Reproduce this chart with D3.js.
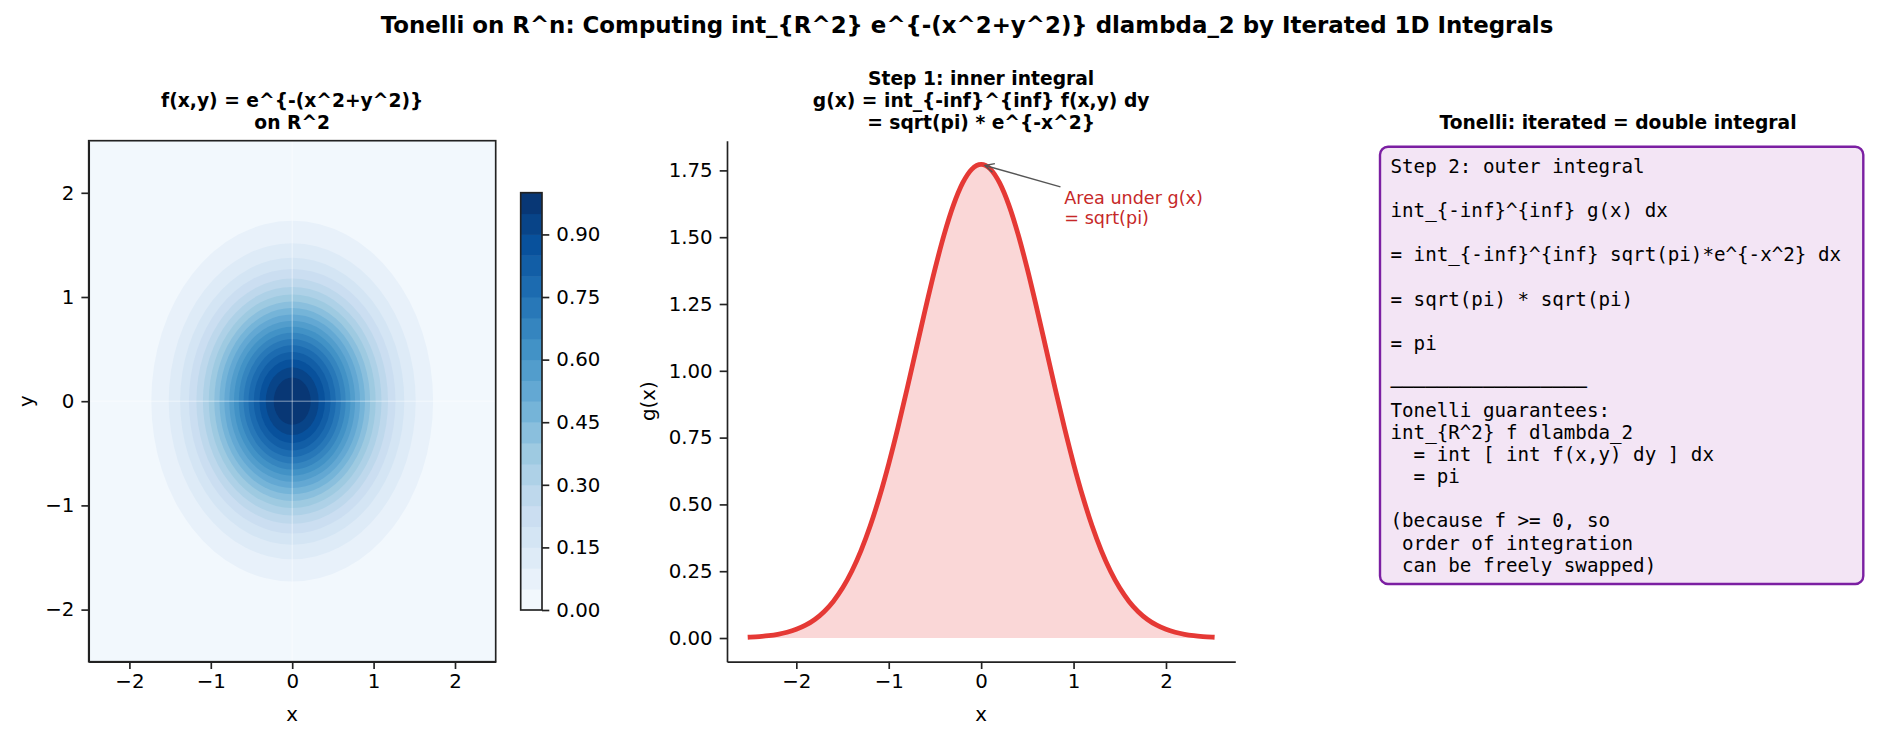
<!DOCTYPE html>
<meta charset="utf-8">
<style>
body { margin: 0; background: #fff; }
svg { font-family: "DejaVu Sans", sans-serif; }
.axis text { font-size: 19.8px; fill: #000; font-family: "DejaVu Sans", sans-serif; }
.axis path, .axis line { stroke: #222; stroke-width: 1.67px; }
.title { font-weight: bold; fill: #000; }
.lbl { font-size: 19.8px; fill: #000; }
.mono { font-family: "DejaVu Sans Mono", monospace; font-size: 19.2px; fill: #000; white-space: pre; }
</style>
<svg width="1888" height="740"></svg>

<script src="https://cdn.jsdelivr.net/npm/d3@7/dist/d3.min.js"></script>
<script>

// ---- data ----
var mainTitle = "Tonelli on R^n: Computing int_{R^2} e^{-(x^2+y^2)} dlambda_2 by Iterated 1D Integrals";
var p1Title = ["f(x,y) = e^{-(x^2+y^2)}", "on R^2"];
var p2Title = ["Step 1: inner integral", "g(x) = int_{-inf}^{inf} f(x,y) dy", "= sqrt(pi) * e^{-x^2}"];
var p3Title = "Tonelli: iterated = double integral";

// contour levels of f and the radius of each level circle
var contourLevels = [0.05, 0.10, 0.15, 0.20, 0.25, 0.30, 0.35, 0.40, 0.45, 0.50,
                     0.55, 0.60, 0.65, 0.70, 0.75, 0.80, 0.85, 0.90, 0.95];
var contourRadii = [1.731, 1.517, 1.377, 1.269, 1.177, 1.097, 1.025, 0.957, 0.894, 0.833,
                    0.773, 0.715, 0.656, 0.597, 0.536, 0.472, 0.403, 0.325, 0.227];
var cbTicks = [0, 0.15, 0.30, 0.45, 0.60, 0.75, 0.90];
var p1Ticks = [-2, -1, 0, 1, 2];

// g(x) samples
var gX = [-2.5, -2.4, -2.3, -2.2, -2.1, -2.0, -1.9, -1.8, -1.7, -1.6, -1.5, -1.4, -1.3, -1.2, -1.1, -1.0,
          -0.9, -0.8, -0.7, -0.6, -0.5, -0.4, -0.3, -0.2, -0.1, 0, 0.1, 0.2, 0.3, 0.4, 0.5, 0.6, 0.7, 0.8, 0.9,
          1.0, 1.1, 1.2, 1.3, 1.4, 1.5, 1.6, 1.7, 1.8, 1.9, 2.0, 2.1, 2.2, 2.3, 2.4, 2.5];
var gY = [0.0034, 0.0056, 0.0089, 0.0140, 0.0216, 0.0325, 0.0479, 0.0694, 0.0985, 0.1370, 0.1868, 0.2497,
          0.3271, 0.4200, 0.5286, 0.6521, 0.7885, 0.9346, 1.0859, 1.2366, 1.3804, 1.5104, 1.6199, 1.7030,
          1.7549, 1.7725, 1.7549, 1.7030, 1.6199, 1.5104, 1.3804, 1.2366, 1.0859, 0.9346, 0.7885, 0.6521,
          0.5286, 0.4200, 0.3271, 0.2497, 0.1868, 0.1370, 0.0985, 0.0694, 0.0479, 0.0325, 0.0216, 0.0140,
          0.0089, 0.0056, 0.0034];
var p2XTicks = [-2, -1, 0, 1, 2];
var p2YTicks = [0, 0.25, 0.50, 0.75, 1.00, 1.25, 1.50, 1.75];
var annoText = ["Area under g(x)", "= sqrt(pi)"];
var annoPos = [0.9, 1.55];

var boxLines = [
  "Step 2: outer integral",
  "",
  "int_{-inf}^{inf} g(x) dx",
  "",
  "= int_{-inf}^{inf} sqrt(pi)*e^{-x^2} dx",
  "",
  "= sqrt(pi) * sqrt(pi)",
  "",
  "= pi",
  "",
  "─────────────────",
  "Tonelli guarantees:",
  "int_{R^2} f dlambda_2",
  "  = int [ int f(x,y) dy ] dx",
  "  = pi",
  "",
  "(because f >= 0, so",
  " order of integration",
  " can be freely swapped)"
];

var svg = d3.select("svg");
svg.append("rect").attr("width", 1888).attr("height", 740).attr("fill", "#fff");

var blues = d3.piecewise(d3.interpolateRgb, d3.schemeBlues[9]);
var intFmt = d3.format("d");

svg.append("text").attr("class", "title")
    .attr("x", 967).attr("y", 33)
    .attr("text-anchor", "middle").style("font-size", "22.9px")
    .text(mainTitle);

// ******************** panel 1 : contour of f ********************
var p1 = {left: 88.7, right: 495.7, top: 140.7, bottom: 661.7};
var x1 = d3.scaleLinear().domain([-2.5, 2.5]).range([p1.left, p1.right]);
var y1 = d3.scaleLinear().domain([-2.5, 2.5]).range([p1.bottom, p1.top]);

svg.append("clipPath").attr("id", "clip1")
  .append("rect")
    .attr("x", p1.left).attr("y", p1.top)
    .attr("width", p1.right - p1.left).attr("height", p1.bottom - p1.top);

var g1 = svg.append("g").attr("clip-path", "url(#clip1)");
g1.append("rect")
    .attr("x", p1.left).attr("y", p1.top)
    .attr("width", p1.right - p1.left).attr("height", p1.bottom - p1.top)
    .attr("fill", blues(0.025));

g1.selectAll("ellipse")
    .data(contourLevels)
  .enter().append("ellipse")
    .attr("cx", x1(0)).attr("cy", y1(0))
    .attr("rx", function(d, i) { return x1(contourRadii[i]) - x1(0); })
    .attr("ry", function(d, i) { return y1(0) - y1(contourRadii[i]); })
    .attr("fill", function(d) { return blues(d + 0.025); });

g1.append("line")
    .attr("x1", p1.left).attr("x2", p1.right).attr("y1", y1(0)).attr("y2", y1(0))
    .attr("stroke", "#fff").attr("stroke-opacity", 0.5).attr("stroke-width", 1);
g1.append("line")
    .attr("y1", p1.top).attr("y2", p1.bottom).attr("x1", x1(0)).attr("x2", x1(0))
    .attr("stroke", "#fff").attr("stroke-opacity", 0.5).attr("stroke-width", 1);

svg.append("g").attr("class", "axis")
    .attr("transform", "translate(0," + p1.bottom + ")")
    .call(d3.axisBottom(x1).tickValues(p1Ticks).tickFormat(intFmt).tickSize(7.3).tickPadding(5).tickSizeOuter(0));
svg.append("g").attr("class", "axis")
    .attr("transform", "translate(" + p1.left + ",0)")
    .call(d3.axisLeft(y1).tickValues(p1Ticks).tickFormat(intFmt).tickSize(7.3).tickPadding(7).tickSizeOuter(0));

svg.append("rect")
    .attr("x", p1.left).attr("y", p1.top)
    .attr("width", p1.right - p1.left).attr("height", p1.bottom - p1.top)
    .attr("fill", "none").attr("stroke", "#222").attr("stroke-width", 1.67);

svg.append("text").attr("class", "lbl")
    .attr("x", (p1.left + p1.right) / 2).attr("y", 720.5)
    .attr("text-anchor", "middle").text("x");
svg.append("text").attr("class", "lbl")
    .attr("transform", "translate(32.5," + ((p1.top + p1.bottom) / 2) + ") rotate(-90)")
    .attr("text-anchor", "middle").text("y");

svg.append("g").selectAll("text")
    .data(p1Title)
  .enter().append("text").attr("class", "title")
    .attr("x", (p1.left + p1.right) / 2)
    .attr("y", function(d, i) { return 128.5 - (p1Title.length - 1 - i) * 21.7; })
    .attr("text-anchor", "middle").style("font-size", "18.7px")
    .text(function(d) { return d; });

// colorbar
var cb = {left: 520.7, right: 542, top: 192.7, bottom: 610};
var cy = d3.scaleLinear().domain([0, 1]).range([cb.bottom, cb.top]);
var bandEdges = [0].concat(contourLevels).concat([1]);

svg.append("g").selectAll("rect")
    .data(d3.pairs(bandEdges))
  .enter().append("rect")
    .attr("x", cb.left).attr("width", cb.right - cb.left)
    .attr("y", function(d) { return cy(d[1]); })
    .attr("height", function(d) { return cy(d[0]) - cy(d[1]) + 0.5; })
    .attr("fill", function(d) { return blues((d[0] + d[1]) / 2); });

svg.append("g").attr("class", "axis")
    .attr("transform", "translate(" + cb.right + ",0)")
    .call(d3.axisRight(cy).tickValues(cbTicks).tickFormat(d3.format(".2f")).tickSize(7.3).tickPadding(7).tickSizeOuter(0))
    .select(".domain").remove();

svg.append("rect")
    .attr("x", cb.left).attr("y", cb.top)
    .attr("width", cb.right - cb.left).attr("height", cb.bottom - cb.top)
    .attr("fill", "none").attr("stroke", "#222").attr("stroke-width", 1.67);

// ******************** panel 2 : g(x) ********************
var p2 = {left: 727, right: 1235.3, top: 140.7, bottom: 661.7};
var x2 = d3.scaleLinear().domain([-2.75, 2.75]).range([p2.left, p2.right]);
var y2 = d3.scaleLinear().domain([-0.0886, 1.8611]).range([p2.bottom, p2.top]);
var gData = gX.map(function(x, i) { return {x: x, g: gY[i]}; });

svg.append("path")
    .datum(gData)
    .attr("d", d3.area()
        .x(function(d) { return x2(d.x); })
        .y0(y2(0))
        .y1(function(d) { return y2(d.g); })
        .curve(d3.curveMonotoneX))
    .attr("fill", "#e53935").attr("fill-opacity", 0.2);

svg.append("path")
    .datum(gData)
    .attr("d", d3.line()
        .x(function(d) { return x2(d.x); })
        .y(function(d) { return y2(d.g); })
        .curve(d3.curveMonotoneX))
    .attr("fill", "none").attr("stroke", "#e53935")
    .attr("stroke-width", 4.8).attr("stroke-linecap", "square");

svg.append("g").attr("class", "axis")
    .attr("transform", "translate(0," + p2.bottom + ")")
    .call(d3.axisBottom(x2).tickValues(p2XTicks).tickFormat(intFmt).tickSize(7.3).tickPadding(5).tickSizeOuter(0));
svg.append("g").attr("class", "axis")
    .attr("transform", "translate(" + p2.left + ",0)")
    .call(d3.axisLeft(y2).tickValues(p2YTicks).tickFormat(d3.format(".2f")).tickSize(7.3).tickPadding(7).tickSizeOuter(0));

svg.append("text").attr("class", "lbl")
    .attr("x", (p2.left + p2.right) / 2).attr("y", 720.5)
    .attr("text-anchor", "middle").text("x");
svg.append("text").attr("class", "lbl")
    .attr("transform", "translate(655," + ((p2.top + p2.bottom) / 2) + ") rotate(-90)")
    .attr("text-anchor", "middle").text("g(x)");

svg.append("g").selectAll("text")
    .data(p2Title)
  .enter().append("text").attr("class", "title")
    .attr("x", (p2.left + p2.right) / 2)
    .attr("y", function(d, i) { return 128.5 - (p2Title.length - 1 - i) * 21.7; })
    .attr("text-anchor", "middle").style("font-size", "18.7px")
    .text(function(d) { return d; });

// annotation
var anno = svg.append("g");
anno.selectAll("text")
    .data(annoText)
  .enter().append("text")
    .attr("x", x2(annoPos[0]))
    .attr("y", function(d, i) { return y2(annoPos[1]) - (annoText.length - 1 - i) * 20.3; })
    .style("font-size", "17.6px").attr("fill", "#c62828")
    .text(function(d) { return d; });

var bb = anno.node().getBBox();
var tip = [x2(0), y2(gY[gX.indexOf(0)])];
var c = [bb.x + bb.width / 2, bb.y + bb.height / 2];
var dx = tip[0] - c[0], dy = tip[1] - c[1];
var tx = dx < 0 ? (bb.x - c[0]) / dx : (bb.x + bb.width - c[0]) / dx;
var ty = dy < 0 ? (bb.y - c[1]) / dy : (bb.y + bb.height - c[1]) / dy;
var t = Math.min(tx, ty);
var len = Math.sqrt(dx * dx + dy * dy);
var ux = dx / len, uy = dy / len;
var start = [c[0] + dx * t + ux * 4, c[1] + dy * t + uy * 4];
var end = [tip[0] - ux * 4, tip[1] - uy * 4];

svg.append("line")
    .attr("x1", start[0]).attr("y1", start[1]).attr("x2", end[0]).attr("y2", end[1])
    .attr("stroke", "#555").attr("stroke-width", 1.4);
svg.append("path")
    .attr("d", "M" + (end[0] - ux * 9 - uy * 4.5) + "," + (end[1] - uy * 9 + ux * 4.5) +
               "L" + end[0] + "," + end[1] +
               "L" + (end[0] - ux * 9 + uy * 4.5) + "," + (end[1] - uy * 9 - ux * 4.5))
    .attr("fill", "none").attr("stroke", "#555").attr("stroke-width", 1.4);

// ******************** panel 3 : text box ********************
svg.append("text").attr("class", "title")
    .attr("x", 1618).attr("y", 129)
    .attr("text-anchor", "middle").style("font-size", "18.7px")
    .text(p3Title);

svg.append("rect")
    .attr("x", 1380).attr("y", 146.7)
    .attr("width", 483.3).attr("height", 437.3)
    .attr("rx", 8).attr("ry", 8)
    .attr("fill", "#f3e5f5").attr("stroke", "#7b1fa2").attr("stroke-width", 2.4);

svg.append("g").selectAll("text")
    .data(boxLines)
  .enter().append("text").attr("class", "mono")
    .attr("x", 1390.5)
    .attr("y", function(d, i) { return 172.7 + i * 22.17; })
    .text(function(d) { return d; });

</script>
